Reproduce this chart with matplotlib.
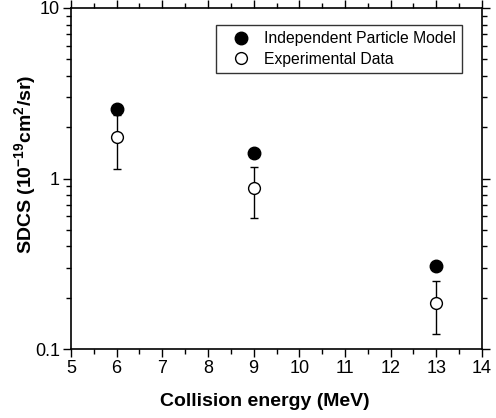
import matplotlib
matplotlib.use("Agg")
import matplotlib.pyplot as plt
from matplotlib.ticker import LogLocator, FixedLocator, NullFormatter, FixedFormatter
from matplotlib.lines import Line2D

plt.rcParams['font.family'] = ['Liberation Sans', 'DejaVu Sans']
plt.rcParams['mathtext.fontset'] = 'custom'
plt.rcParams['mathtext.rm'] = 'Liberation Sans'
plt.rcParams['mathtext.bf'] = 'Liberation Sans:bold'
plt.rcParams['mathtext.default'] = 'bf'

energy = [6, 9, 13]
ipm = [2.56, 1.42, 0.305]
exp_vals = [1.75, 0.874, 0.187]
exp_err = [0.62, 0.29, 0.065]

x_ticks = [5, 6, 7, 8, 9, 10, 11, 12, 13, 14]
y_ticks = [0.1, 1, 10]
y_tick_labels = ['0.1', '1', '10']

fig = plt.figure(figsize=(4.96, 4.18), dpi=100)
ax = fig.add_axes([71/496, 1-349/418, (482-71)/496, (349-8)/418])

ax.errorbar(energy, exp_vals, yerr=exp_err, fmt='o', color='black', mfc='white',
            mec='black', ms=8.5, mew=1.0, capsize=3, elinewidth=1.0, capthick=1.0,
            zorder=3)
ax.plot(energy, ipm, 'o', color='black', ms=9, zorder=4)

ax.set_yscale('log')
ax.set_xlim(5, 14)
ax.set_ylim(0.1, 10)
ax.xaxis.set_major_locator(FixedLocator(x_ticks))
ax.xaxis.set_minor_locator(FixedLocator([v + 0.5 for v in x_ticks[:-1]]))
ax.yaxis.set_major_locator(FixedLocator(y_ticks))
ax.yaxis.set_major_formatter(FixedFormatter(y_tick_labels))
ax.yaxis.set_minor_locator(LogLocator(base=10, subs=range(2, 10)))
ax.yaxis.set_minor_formatter(NullFormatter())

ax.tick_params(which='both', direction='out', top=True, right=True, labeltop=False, labelright=False)
ax.tick_params(which='major', length=6, width=1.0, labelsize=13, pad=2)
ax.tick_params(which='minor', length=3.5, width=1.0)
for s in ax.spines.values():
    s.set_linewidth(1.2)

ax.set_xlabel('Collision energy (MeV)', fontsize=14, fontweight='bold')
ax.set_ylabel('SDCS (10$^{-19}$cm$^{2}$/sr)', fontsize=14, fontweight='bold')
ax.xaxis.set_label_coords((265-71)/411, -(401-349)/341)
ax.yaxis.set_label_coords(-(71-25)/411, (349-164.5)/341)
ax.xaxis.label.set_va('center')
ax.yaxis.label.set_va('center')

handles = [Line2D([], [], ls='none', marker='o', color='black', ms=9),
           Line2D([], [], ls='none', marker='o', mfc='white', mec='black', mew=1.0, ms=8.5)]
labels = ['Independent Particle Model', 'Experimental Data']
leg = ax.legend(handles, labels, loc='upper right',
                bbox_to_anchor=(462/496, 1-25/418), bbox_transform=fig.transFigure,
                borderaxespad=0, fontsize=11.3, frameon=True, fancybox=False, edgecolor='black',
                handletextpad=0.28, borderpad=0.4, labelspacing=0.35, handlelength=2.38)
leg.get_frame().set_linewidth(1.0)
fig.savefig('out.png', dpi=100)
